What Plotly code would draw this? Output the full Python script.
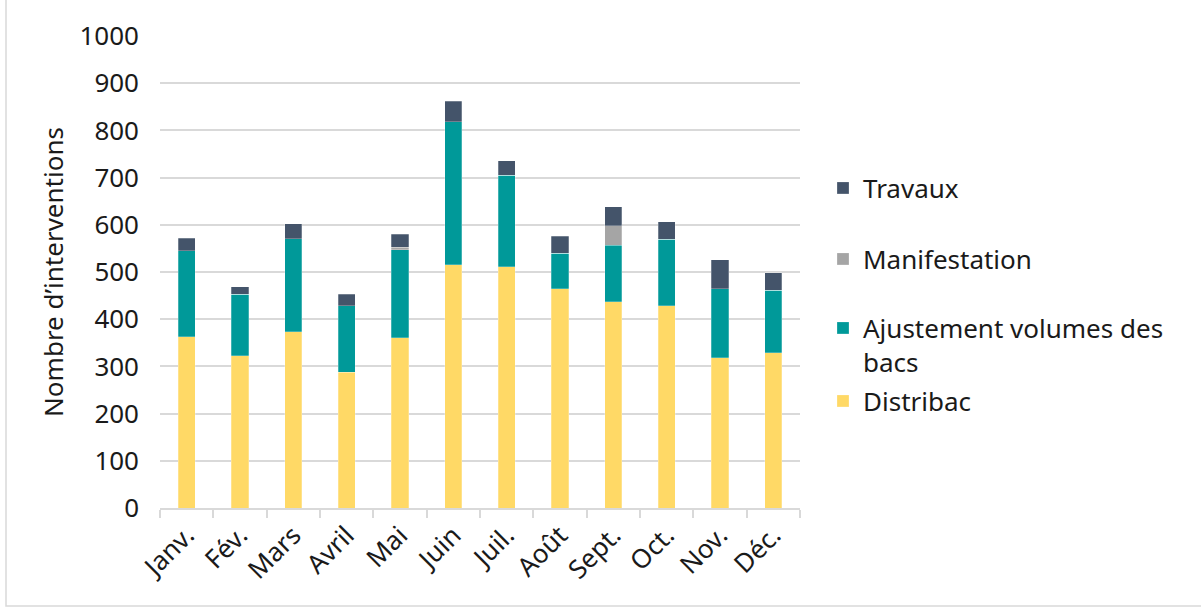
import plotly.graph_objects as go

# données
mois = ["Janv.", "Fév.", "Mars", "Avril", "Mai", "Juin", "Juil.", "Août", "Sept.", "Oct.", "Nov.", "Déc."]
distribac = [363, 323, 373, 288, 361, 515, 511, 464, 437, 429, 318, 329]
ajustement = [182, 130, 197, 141, 186, 303, 194, 76, 120, 140, 147, 132]
manifestation = [0, 0, 0, 0, 5, 0, 0, 0, 41, 0, 0, 0]
travaux = [27, 16, 32, 24, 28, 44, 31, 36, 40, 37, 61, 37]

FONT = "Noto Sans"
FS = 26
TXT = "#1a1a1a"
GRID = "#d9d9d9"

# plot area in pixels (1201x608 page)
L, R, T, B = 160, 800, 36, 508


def py(pix):
    return (B - pix) / (B - T)


def px(pix):
    return (pix - L) / (R - L)


fig = go.Figure()
series = [
    ("Distribac", distribac, "#FFD966", "legend4"),
    ("Ajustement volumes des<br>bacs", ajustement, "#009999", "legend3"),
    ("Manifestation", manifestation, "#A5A5A5", "legend2"),
    ("Travaux", travaux, "#44546A", "legend"),
]
for name, vals, col, leg in series:
    fig.add_trace(go.Bar(
        x=mois, y=vals, name=name, legend=leg, showlegend=True,
        marker=dict(color=col, line=dict(color="rgba(255,255,255,0.5)", width=0.5)),
    ))

leg_base = dict(x=px(823), xanchor="left", yanchor="middle",
                font=dict(family=FONT, size=FS, color=TXT),
                bgcolor="rgba(0,0,0,0)", itemclick=False)

fig.update_layout(
    barmode="stack",
    bargap=0.68,
    showlegend=True,
    width=1201, height=608,
    margin=dict(l=L, r=1201 - R, t=T, b=608 - B, autoexpand=False),
    paper_bgcolor="white", plot_bgcolor="white",
    font=dict(family=FONT, size=FS, color=TXT),
    legend=dict(leg_base, y=py(188)),
    legend2=dict(leg_base, y=py(259)),
    legend3=dict(leg_base, y=py(345), valign="top", tracegroupgap=0),
    legend4=dict(leg_base, y=py(401)),
    xaxis=dict(
        tickangle=-45, showline=True, linecolor=GRID, linewidth=1.5,
        ticks="outside", tickson="boundaries", ticklen=8, tickcolor=GRID, tickwidth=1.5,
        tickfont=dict(size=FS, color=TXT),
    ),
    yaxis=dict(
        range=[0, 1000], dtick=100, showgrid=True, gridcolor=GRID, gridwidth=1.5,
        zeroline=False, ticklabelstandoff=20, tickfont=dict(size=FS, color=TXT),
        title=dict(text="Nombre d’interventions", standoff=8, font=dict(size=FS, color=TXT)),
    ),
    shapes=[dict(type="rect", xref="paper", yref="paper",
                 x0=px(6), x1=px(1210), y0=py(606), y1=py(-10),
                 line=dict(color=GRID, width=1.5), layer="below")],
)

fig.write_html("out.html", config={"displayModeBar": False},
               post_script="document.body.style.margin='0';")
